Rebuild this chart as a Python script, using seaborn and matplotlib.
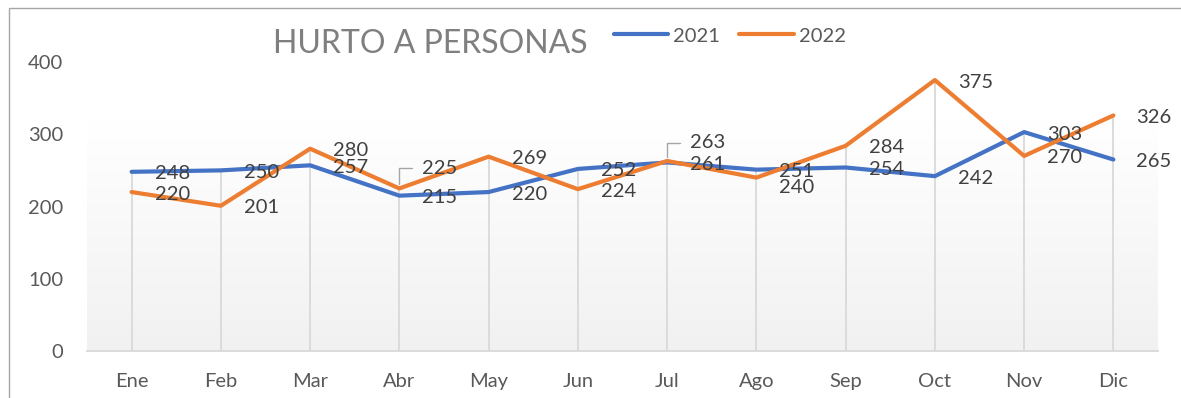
import numpy as np
import pandas as pd
import seaborn as sns
import matplotlib.pyplot as plt
from matplotlib.patches import Rectangle
from matplotlib.colors import LinearSegmentedColormap

# Monthly counts of "hurto a personas"
months = ['Ene', 'Feb', 'Mar', 'Abr', 'May', 'Jun', 'Jul', 'Ago', 'Sep', 'Oct', 'Nov', 'Dic']
hurtos_2021 = [248, 250, 257, 215, 220, 252, 261, 251, 254, 242, 303, 265]
hurtos_2022 = [220, 201, 280, 225, 269, 224, 263, 240, 284, 375, 270, 326]
years = ['2021', '2022']
y_ticks = [0, 100, 200, 300, 400]

colors = {'2021': '#4472C4', '2022': '#ED7D31'}

df = pd.DataFrame({
    'mes': months * 2,
    'valor': hurtos_2021 + hurtos_2022,
    'anio': [years[0]] * len(months) + [years[1]] * len(months),
})

sns.set_theme(style='white')
plt.rcParams['font.family'] = ['Lato', 'DejaVu Sans']

W, H = 1181, 398
fig = plt.figure(figsize=(W / 100, H / 100), dpi=100)
ax = fig.add_axes([87 / W, (H - 351) / H, (1158 - 87) / W, (351 - 62) / H])
PX = 72 / 100  # points per pixel

# soft vertical gradient behind the data
grad = np.linspace(0, 1, 256).reshape(-1, 1)
cmap = LinearSegmentedColormap.from_list('bg', ['#f1f1f1', '#ffffff'])
ax.imshow(grad, cmap=cmap, origin='lower', aspect='auto',
          extent=[-0.5, len(months) - 0.5, 0, 316], zorder=0)

# drop lines from the highest point of each month to the axis
top = np.maximum(hurtos_2021, hurtos_2022)
ax.vlines(range(len(months)), 0, top, color='#d9d9d9', lw=1.3, zorder=1)

sns.lineplot(data=df, x='mes', y='valor', hue='anio', palette=colors,
             sort=False, lw=3.0, ax=ax, legend=False, zorder=3,
             solid_capstyle='round', solid_joinstyle='round')

ax.set_xlim(-0.5, len(months) - 0.5)
ax.set_ylim(0, 400)
ax.set_yticks(y_ticks)
ax.set_xlabel('')
ax.set_ylabel('')
for s in ['top', 'right', 'left']:
    ax.spines[s].set_visible(False)
ax.spines['bottom'].set_color('#d9d9d9')
ax.spines['bottom'].set_linewidth(1.3)
ax.patch.set_alpha(0)
ax.tick_params(axis='both', length=0, labelsize=14.5, labelcolor='#595959')
ax.tick_params(axis='y', pad=24 * PX)
ax.tick_params(axis='x', pad=22 * PX)

# data labels: right of each point; a few are moved (offsets in pixels)
label_dy = {('2022', 'Abr'): 20, ('2022', 'Jul'): 18, ('2022', 'Ago'): -10}
leaders = {('2022', 'Abr'), ('2022', 'Jul')}
for yr, vals in zip(years, [hurtos_2021, hurtos_2022]):
    for i, (m, v) in enumerate(zip(months, vals)):
        dy = label_dy.get((yr, m), -2)
        kw = {}
        if (yr, m) in leaders:
            kw['arrowprops'] = dict(arrowstyle='-', color='#a6a6a6', lw=1.0,
                                    connectionstyle='angle,angleA=180,angleB=90,rad=0',
                                    shrinkA=5, shrinkB=3, relpos=(0, 0.5))
        ax.annotate(str(v), xy=(i, v), xytext=(23 * PX, dy * PX),
                    textcoords='offset points', ha='left', va='center',
                    fontsize=14.5, color='#404040', zorder=5, **kw)

# title and legend
fig.text(430.5 / W, 1 - 53 / H, 'HURTO A PERSONAS', ha='center', va='baseline',
         fontsize=23, color='#7f7f7f')
handles = [plt.Line2D([], [], color=colors[y], lw=3.0, solid_capstyle='round') for y in years]
fig.legend(handles, years, loc='center left', bbox_to_anchor=(614 / W, 1 - 36 / H),
           ncol=2, frameon=False, fontsize=14.5, labelcolor='#595959',
           handlelength=2.7, handletextpad=0.25, columnspacing=0.95,
           borderpad=0, borderaxespad=0)

# chart frame
fig.add_artist(Rectangle((9 / W, -0.2), 1.2, 1.2 - 7.5 / H, transform=fig.transFigure,
                         fill=False, edgecolor='#a6a6a6', lw=1.0))

fig.savefig('out.png', dpi=100, facecolor='white')
